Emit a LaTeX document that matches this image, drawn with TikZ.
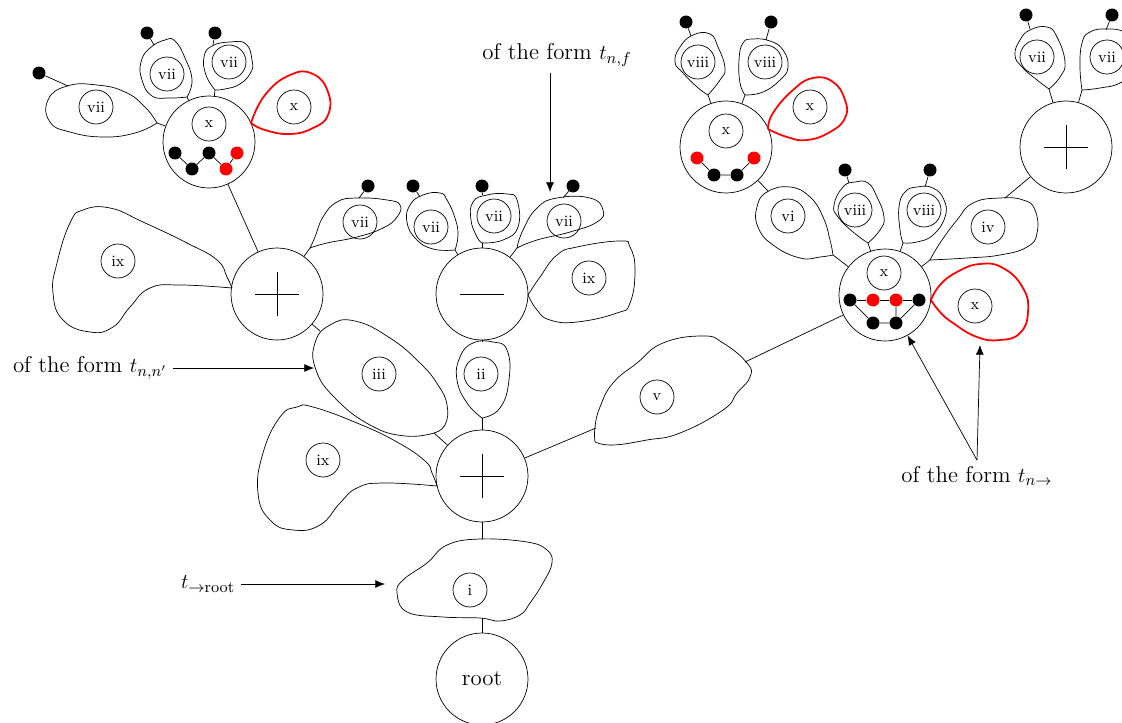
\documentclass[tikz,border=0pt]{standalone}
\usepackage{amsmath}
\usepackage{tikz}
\usetikzlibrary{arrows.meta}

\begin{document}
\begin{tikzpicture}[x=0.02cm,y=-0.02cm,
    bignode/.style={circle,draw,minimum size=1.84cm,inner sep=0pt},
    lab/.style={circle,draw,minimum size=0.68cm,inner sep=0pt,font=\small},
    bead/.style={circle,fill,inner sep=0pt,minimum size=0.26cm},
    blob/.style={smooth,tension=0.8},
    redline/.style={red,line width=1pt},
    bigtext/.style={font=\fontsize{13}{15}\selectfont},
    >={Latex[length=5.5pt,width=4.5pt]}]
    \useasboundingbox (0,0) rectangle (1122,723);
    \clip (0,0) rectangle (1122,723);

    % Main nodes
    \node[bignode,bigtext] (root) at (482,679) {root};
    \node[bignode] (P0) at (482,476) {};
    \node[bignode] (M) at (482,294) {};
    \node[bignode] (P1) at (277,294) {};
    \node[bignode] (TL) at (209,142) {};
    \node[bignode] (TR) at (726,147) {};
    \node[bignode] (R) at (885,295) {};
    \node[bignode] (P2) at (1066,147) {};

    % Plus and minus signs
    \draw (P0.center) +(-22,0) -- +(22,0) +(0,-22) -- +(0,22);
    \draw (P1.center) +(-22,0) -- +(22,0) +(0,-22) -- +(0,22);
    \draw (P2.center) +(-22,0) -- +(22,0) +(0,-22) -- +(0,22);
    \draw (M.center) +(-22,0) -- +(22,0);

    % Piece i
    \draw plot[smooth cycle,tension=0.7] coordinates {(480,539) (527,542) (547,550) (552,563) (543,583) (530,603) (520,615) (500,621) (480,618) (443,617) (407,612) (397,593) (403,580) (427,563) (447,545)};
    \node[lab] (li) at (470,590) {i};
    \coordinate (iT) at (482,539);
    \coordinate (iB) at (482,618);
    \draw (root) -- (iB);
    \draw (iT) -- (P0);

    % Piece ii
    \draw plot[blob] coordinates {(482,418) (500,408) (509,380) (507,350) (493,342) (473,343) (460,357) (457,380) (467,403) (482,418)};
    \node[lab] (lii) at (481,374) {ii};
    \coordinate (iiT) at (482,342);
    \coordinate (iiB) at (482,418);
    \draw (P0) -- (iiB);
    \draw (iiT) -- (M);

    % Piece iii
    \draw plot[blob] coordinates {(434,433) (445,425) (447,405) (438,385) (420,363) (390,338) (355,321) (330,325) (315,343) (316,370) (335,398) (370,425) (405,436) (434,433)};
    \node[lab] (liii) at (379,374) {iii};
    \coordinate (iiiC) at (434,433);
    \coordinate (iiiN) at (320,331);
    \coordinate (iiiW) at (314,368);
    \draw (P0) -- (iiiC);
    \draw (iiiN) -- (P1);

    % Piece ix at the lower plus
    \draw plot[blob] coordinates {(437,486) (432,473) (425,461) (397,442) (357,423) (313,407) (297,407) (280,417) (263,453) (258,493) (270,520) (293,530) (320,525) (340,503) (357,488) (383,483) (437,486)};
    \node[lab] (lix1) at (323,460) {ix};

    % Piece v
    \draw plot[blob] coordinates {(595,442) (595,427) (600,407) (613,383) (637,363) (663,343) (703,336) (723,343) (747,363) (750,377) (737,393) (723,410) (680,433) (647,440) (613,445) (595,442)};
    \node[lab] (lv) at (657,397) {v};
    \coordinate (vW) at (596,428);
    \coordinate (vE) at (745,362);
    \draw (P0) -- (vW);
    \draw (vE) -- (R);

    % Upper left plus
    \draw plot[blob] coordinates {(232,288) (227,277) (217,260) (187,243) (143,222) (110,208) (83,210) (70,223) (57,263) (53,293) (63,320) (90,332) (113,327) (130,307) (150,288) (180,285) (232,288)};
    \node[lab] (lix2) at (118,261) {ix};
    \draw plot[blob] coordinates {(310,248) (315,237) (323,217) (337,202) (357,198) (387,200) (400,205) (397,217) (383,228) (357,237) (327,243) (310,248)};
    \node[lab] (lvii4) at (360,222) {vii};
    \coordinate (vii4c) at (310,248);
    \coordinate (vii4t) at (359,198);
    \node[bead] (s4) at (368,186) {};
    \draw (vii4c) -- (P1);
    \draw (s4) -- (vii4t);
    \draw (TL) -- (P1);

    % Top left x node
    \node[lab] (lxTL) at (209,124) {x};
    \node[bead] (a1) at (175,153) {};
    \node[bead] (a2) at (192,169) {};
    \node[bead] (a3) at (209,153) {};
    \node[bead,red] (a4) at (226,169) {};
    \node[bead,red] (a5) at (237,153) {};
    \draw (a1) -- (a2) -- (a3) -- (a4) -- (a5);
    \draw[redline] plot[blob] coordinates {(251,123) (265,95) (290,75) (313,74) (328,92) (328,115) (313,128) (290,134) (265,130) (251,123)};
    \node[lab] (lxTL2) at (294,107) {x};
    \draw plot[blob] coordinates {(157,123) (145,107) (125,92) (97,85) (67,86) (48,100) (50,122) (70,132) (103,137) (135,133) (157,123)};
    \node[lab] (lvii1) at (96,107) {vii};
    \draw plot[blob] coordinates {(187,97) (192,80) (185,58) (175,41) (165,40) (150,48) (141,62) (142,80) (152,96) (170,98) (187,97)};
    \node[lab] (lvii2) at (167,74) {vii};
    \draw plot[blob] coordinates {(215,90) (206,75) (204,57) (212,46) (230,42) (246,44) (252,60) (251,72) (240,84) (225,89) (215,90)};
    \node[lab] (lvii3) at (229,62) {vii};
    \coordinate (vii1c) at (157,123);
    \coordinate (vii2c) at (187,97);
    \coordinate (vii3c) at (215,90);
    \coordinate (vii1t) at (68,86);
    \coordinate (vii2t) at (154,45);
    \coordinate (vii3t) at (213,45);
    \node[bead] (s1) at (39,73) {};
    \node[bead] (s2) at (147,33) {};
    \node[bead] (s3) at (215,33) {};
    \draw (vii1c) -- (TL);
    \draw (vii2c) -- (TL);
    \draw (vii3c) -- (TL);
    \draw (s1) -- (vii1t);
    \draw (s2) -- (vii2t);
    \draw (s3) -- (vii3t);

    % Minus node
    \draw plot[blob] coordinates {(455,250) (458,235) (455,218) (447,200) (440,193) (423,195) (410,205) (407,222) (416,239) (433,249) (455,250)};
    \node[lab] (lvii5) at (431,227) {vii};
    \draw plot[blob] coordinates {(482,243) (503,240) (518,227) (517,200) (507,194) (487,195) (473,202) (471,220) (477,237) (482,243)};
    \node[lab] (lvii6) at (494,216) {vii};
    \draw plot[blob] coordinates {(517,248) (523,230) (537,208) (557,198) (590,198) (603,210) (597,222) (570,232) (537,240) (517,248)};
    \node[lab] (lvii7) at (564,221) {vii};
    \draw plot[blob] coordinates {(528,295) (540,277) (557,255) (577,247) (620,241) (630,247) (635,270) (630,303) (617,313) (577,322) (550,320) (537,310) (528,295)};
    \node[lab] (lix3) at (589,278) {ix};
    \coordinate (vii5c) at (455,250);
    \coordinate (vii6c) at (482,243);
    \coordinate (vii7c) at (517,248);
    \coordinate (vii5t) at (420,197);
    \coordinate (vii6t) at (482,195);
    \coordinate (vii7t) at (563,198);
    \node[bead] (s5) at (413,186) {};
    \node[bead] (s6) at (482,186) {};
    \node[bead] (s7) at (573,186) {};
    \draw (vii5c) -- (M);
    \draw (vii6c) -- (M);
    \draw (vii7c) -- (M);
    \draw (s5) -- (vii5t);
    \draw (s6) -- (vii6t);
    \draw (s7) -- (vii7t);

    % Top right x node
    \node[lab] (lxTR) at (726,131) {x};
    \node[bead,red] (b1) at (697,158) {};
    \node[bead] (b2) at (714,175) {};
    \node[bead] (b3) at (737,175) {};
    \node[bead,red] (b4) at (754,158) {};
    \draw (b1) -- (b2) -- (b3) -- (b4);
    \draw[redline] plot[blob] coordinates {(768,129) (773,113) (793,90) (813,78) (833,82) (845,100) (845,118) (830,132) (807,140) (787,137) (768,129)};
    \node[lab] (lxTR2) at (810,107) {x};
    \draw plot[blob] coordinates {(708,95) (697,87) (683,73) (675,62) (680,47) (693,35) (710,34) (718,47) (725,68) (720,80) (708,95)};
    \node[lab] (lviii1) at (698,62) {viii};
    \draw plot[blob] coordinates {(745,95) (740,83) (739,60) (743,43) (753,39) (770,41) (783,50) (788,67) (780,80) (763,92) (745,95)};
    \node[lab] (lviii2) at (765,62) {viii};
    \coordinate (viii1c) at (708,95);
    \coordinate (viii2c) at (745,95);
    \coordinate (viii1t) at (691,36);
    \coordinate (viii2t) at (766,40);
    \node[bead] (s8) at (686,22) {};
    \node[bead] (s9) at (771,22) {};
    \draw (viii1c) -- (TR);
    \draw (viii2c) -- (TR);
    \draw (s8) -- (viii1t);
    \draw (s9) -- (viii2t);

    % Piece vi
    \draw plot[blob] coordinates {(833,255) (830,240) (823,217) (810,197) (790,187) (767,192) (757,207) (758,227) (773,245) (800,258) (820,257) (833,255)};
    \node[lab] (lvi) at (788,216) {vi};
    \coordinate (viT) at (768,191);
    \coordinate (viC) at (833,255);
    \draw (TR) -- (viT);
    \draw (viC) -- (R);

    % Right x node
    \node[lab] (lxR) at (884,273) {x};
    \node[bead] (c1) at (850,300) {};
    \node[bead,red] (c2) at (873,300) {};
    \node[bead,red] (c3) at (896,300) {};
    \node[bead] (c4) at (919,300) {};
    \node[bead] (c5) at (873,323) {};
    \node[bead] (c6) at (896,323) {};
    \draw (c1) -- (c2) -- (c3) -- (c4);
    \draw (c1) -- (c5) -- (c6) -- (c3);
    \draw (c6) -- (c4);
    \draw[redline] plot[blob] coordinates {(931,300) (940,285) (957,272) (980,264) (1003,268) (1023,288) (1028,312) (1020,333) (1000,340) (977,337) (953,323) (940,312) (931,300)};
    \node[lab] (lxR2) at (975,306) {x};
    \draw plot[blob] coordinates {(868,243) (853,232) (838,217) (834,205) (843,187) (855,182) (868,183) (877,197) (884,217) (880,230) (868,243)};
    \node[lab] (lviii3) at (855,210) {viii};
    \draw plot[blob] coordinates {(903,243) (900,230) (899,207) (905,192) (917,187) (933,188) (944,200) (945,217) (933,235) (917,242) (903,243)};
    \node[lab] (lviii4) at (924,210) {viii};
    \draw plot[blob] coordinates {(930,260) (940,243) (957,220) (973,203) (1000,198) (1023,200) (1035,210) (1037,233) (1027,247) (1000,255) (967,258) (930,260)};
    \node[lab] (liv) at (988,227) {iv};
    \coordinate (viii3c) at (868,243);
    \coordinate (viii4c) at (903,243);
    \coordinate (viii3t) at (849,183);
    \coordinate (viii4t) at (925,187);
    \coordinate (ivC) at (930,260);
    \coordinate (ivT) at (1005,198);
    \node[bead] (s10) at (845,170) {};
    \node[bead] (s11) at (930,170) {};
    \draw (viii3c) -- (R);
    \draw (viii4c) -- (R);
    \draw (ivC) -- (R);
    \draw (ivT) -- (P2);
    \draw (s10) -- (viii3t);
    \draw (s11) -- (viii4t);

    % Top right plus
    \draw plot[blob] coordinates {(1049,89) (1037,80) (1022,67) (1015,55) (1020,40) (1030,30) (1047,27) (1057,37) (1065,62) (1060,77) (1049,89)};
    \node[lab] (lvii8) at (1037,57) {vii};
    \draw plot[blob] coordinates {(1082,90) (1080,67) (1082,43) (1090,32) (1107,29) (1125,33) (1135,50) (1135,70) (1120,83) (1100,88) (1082,90)};
    \node[lab] (lvii9) at (1107,57) {vii};
    \coordinate (vii8c) at (1049,89);
    \coordinate (vii9c) at (1082,90);
    \coordinate (vii8t) at (1030,29);
    \coordinate (vii9t) at (1106,30);
    \node[bead] (s12) at (1026,15) {};
    \node[bead] (s13) at (1112,15) {};
    \draw (vii8c) -- (P2);
    \draw (vii9c) -- (P2);
    \draw (s12) -- (vii8t);
    \draw (s13) -- (vii9t);

    % Labels and arrows
    \node[bigtext] (formF) at (557,55) {of the form $t_{n,f}$};
    \coordinate (fTip) at (550,192);
    \draw[->] (formF.south -| fTip) -- (fTip);
    \node[bigtext] (formNN) at (90,368) {of the form $t_{n,n'}$};
    \draw[->] (formNN) -- (iiiW);
    \node[bigtext] (formRoot) at (208,584) {$t_{\rightarrow\mathrm{root}}$};
    \coordinate (rTip) at (385,584);
    \draw[->] (formRoot) -- (rTip);
    \node[bigtext] (formTo) at (977,476) {of the form $t_{n\rightarrow}$};
    \coordinate (xTip) at (980,345);
    \draw[->] (formTo.north) -- (R);
    \draw[->] (formTo.north) -- (xTip);
\end{tikzpicture}
\end{document}
